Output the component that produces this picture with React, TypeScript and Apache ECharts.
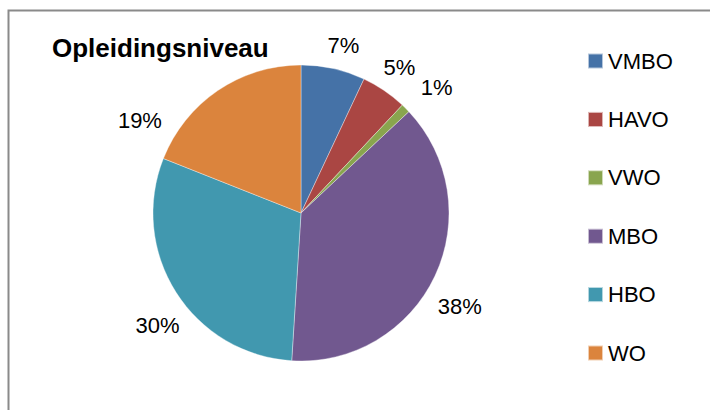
import React, { useEffect, useRef } from "react";
import * as echarts from "echarts";

const categories = ["VMBO", "HAVO", "VWO", "MBO", "HBO", "WO"];
const percentages = [7, 5, 1, 38, 30, 19];
const colors = ["#4572A7", "#AA4643", "#89A54E", "#71588F", "#4198AF", "#DB843D"];
const titleText = "Opleidingsniveau";

// label layout (Excel "best fit" placement), polar: degrees clockwise from top, distance from centre
const LABEL_ANGLE = [14.2, 34.1, 47.3, 120.4, 232, 300];
const LABEL_DIST = [173, 175.5, 184.6, 184, 182, 186];
const CX = 301;
const CY = 213;
const R = 148;

export default function App() {
  const ref = useRef<HTMLDivElement>(null);
  useEffect(() => {
    if (!ref.current) return;
    const chart = echarts.init(ref.current, null, { renderer: "svg" });
    const font = "'Liberation Sans', Arial, sans-serif";
    chart.setOption({
      animation: false,
      color: colors,
      title: {
        text: titleText,
        left: 52,
        top: 35,
        padding: 0,
        textStyle: {
          fontFamily: font,
          fontWeight: "bold",
          fontSize: 26,
          lineHeight: 26,
          color: "#000",
        },
      },
      legend: {
        orient: "vertical",
        left: 587,
        top: 50,
        padding: 0,
        itemWidth: 15,
        itemHeight: 15,
        itemGap: 36.4,
        icon: "rect",
        data: categories,
        textStyle: {
          fontFamily: font,
          fontSize: 22,
          lineHeight: 22,
          color: "#000",
        },
      },
      graphic: [
        {
          type: "rect",
          shape: { x: 8.5, y: 10.5, width: 760, height: 460 },
          style: { fill: "none", stroke: "#8a8a8a", lineWidth: 2 },
          silent: true,
        },
      ],
      series: [
        {
          type: "pie",
          center: [CX, CY],
          radius: R,
          startAngle: 90,
          clockwise: true,
          avoidLabelOverlap: false,
          itemStyle: { borderColor: "rgba(255,255,255,0.6)", borderWidth: 0.6 },
          label: {
            show: true,
            position: "outside",
            formatter: (p: any) => p.value + "%",
            fontFamily: font,
            fontSize: 22,
            color: "#000",
          },
          labelLine: { show: false },
          labelLayout: (params: any) => {
            const i = params.dataIndex;
            const a = (LABEL_ANGLE[i] * Math.PI) / 180;
            return {
              x: CX + LABEL_DIST[i] * Math.sin(a),
              y: CY - LABEL_DIST[i] * Math.cos(a),
              align: "center",
              verticalAlign: "middle",
            };
          },
          emphasis: { disabled: true },
          data: categories.map((c, i) => ({ name: c, value: percentages[i] })),
        },
      ],
    });
    return () => chart.dispose();
  }, []);
  return (
    <div
      ref={ref}
      style={{ position: "fixed", left: 0, top: 0, width: 710, height: 410, background: "#fff" }}
    />
  );
}
